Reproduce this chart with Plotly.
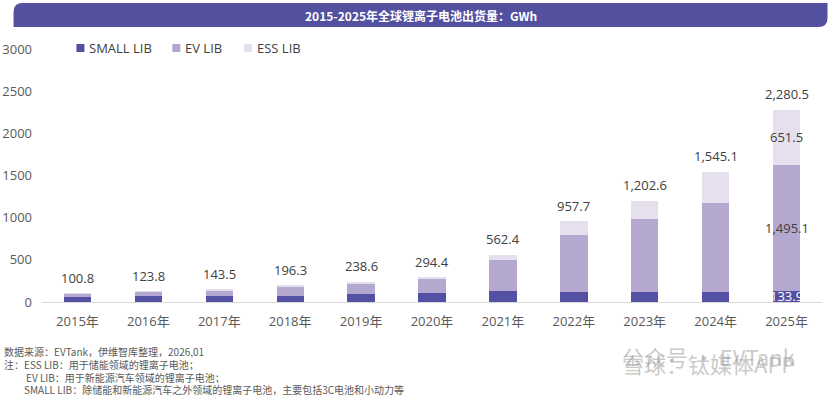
import plotly.graph_objects as go

years = ["2015年", "2016年", "2017年", "2018年", "2019年", "2020年",
         "2021年", "2022年", "2023年", "2024年", "2025年"]
small_lib = [61.0, 70.0, 75.5, 77.0, 93.0, 110.0, 125.1, 114.2, 113.2, 124.1, 133.9]
ev_lib = [37.6, 50.4, 60.0, 110.0, 128.0, 158.2, 371.0, 684.2, 865.2, 1051.2, 1495.1]
ess_lib = [2.2, 3.4, 8.0, 9.3, 17.6, 26.2, 66.3, 159.3, 224.2, 369.8, 651.5]
totals = [100.8, 123.8, 143.5, 196.3, 238.6, 294.4, 562.4, 957.7, 1202.6, 1545.1, 2280.5]
y_ticks = [0, 500, 1000, 1500, 2000, 2500, 3000]

title_text = "2015-2025年全球锂离子电池出货量：GWh"
notes = [
    "数据来源：EVTank，伊维智库整理，2026,01",
    "注：ESS LIB：用于储能领域的锂离子电池；",
    "EV LIB：用于新能源汽车领域的锂离子电池；",
    "SMALL LIB：除储能和新能源汽车之外领域的锂离子电池，主要包括3C电池和小动力等",
]
note_x = [1, 1, 23, 21]

W, H = 831, 395
L, R, T, B = 41.5, 8.5, 49, 92.5
PW, PH = W - L - R, H - T - B

def px(x):
    return (x - L) / PW

def py(y):
    return (H - B - y) / PH

C_SMALL = "#5450A3"
C_EV = "#B4A8D0"
C_ESS = "#E5DFEE"
TXT = "#404040"
FONT = "Open Sans, Noto Sans CJK SC, sans-serif"
CJK = "Noto Sans CJK SC, sans-serif"

fig = go.Figure()
for name, vals, col in [("SMALL LIB", small_lib, C_SMALL),
                        ("EV LIB", ev_lib, C_EV),
                        ("ESS LIB", ess_lib, C_ESS)]:
    fig.add_trace(go.Bar(x=years, y=vals, name=name, marker_color=col,
                         marker_line_width=0, showlegend=False,
                         hoverinfo="x+y+name"))

annotations = []
for yr, tot in zip(years, totals):
    annotations.append(dict(x=yr, y=tot, xref="x", yref="y", text=f"{tot:,.1f}",
                            showarrow=False, yanchor="middle", yshift=15.5,
                            font=dict(family=FONT, size=13, color=TXT)))

# segment labels on last bar
i = len(years) - 1
annotations.append(dict(x=years[i], y=small_lib[i] / 2, xref="x", yref="y",
                        text=f"{small_lib[i]:,.1f}", showarrow=False, yanchor="middle",
                        font=dict(family=FONT, size=13, color="white")))
annotations.append(dict(x=years[i], y=small_lib[i] + ev_lib[i] / 2, xref="x", yref="y",
                        text=f"{ev_lib[i]:,.1f}", showarrow=False, yanchor="middle",
                        font=dict(family=FONT, size=13, color=TXT)))
annotations.append(dict(x=years[i], y=small_lib[i] + ev_lib[i] + ess_lib[i] / 2,
                        xref="x", yref="y", text=f"{ess_lib[i]:,.1f}", showarrow=False,
                        yanchor="middle", font=dict(family=FONT, size=13, color=TXT)))

# title banner
x0, x1, y0, y1, r = 13, 828, 3, 27, 9
path = (f"M {px(x0 + r)},{py(y0)} L {px(x1)},{py(y0)} L {px(x1)},{py(y1 - r)} "
        f"Q {px(x1)},{py(y1)} {px(x1 - r)},{py(y1)} L {px(x0)},{py(y1)} "
        f"L {px(x0)},{py(y0 + r)} Q {px(x0)},{py(y0)} {px(x0 + r)},{py(y0)} Z")
shapes = [dict(type="path", xref="paper", yref="paper", path=path,
               fillcolor="#5450A0", line=dict(width=0), layer="above")]
annotations.append(dict(x=px(421), y=py(15.5), xref="paper", yref="paper",
                        text=f"<b>{title_text}</b>", showarrow=False,
                        xanchor="center", yanchor="middle",
                        font=dict(family=CJK, size=12, color="white")))

# manual legend
leg = [("SMALL LIB", C_SMALL, 76), ("EV LIB", C_EV, 172), ("ESS LIB", C_ESS, 244)]
for name, col, lx in leg:
    shapes.append(dict(type="rect", xref="paper", yref="paper",
                       x0=px(lx), x1=px(lx + 8), y0=py(52), y1=py(44),
                       fillcolor=col, line=dict(width=0)))
    annotations.append(dict(x=px(lx + 11), y=py(48), xref="paper", yref="paper",
                            text=name, showarrow=False, xanchor="left", yanchor="middle",
                            font=dict(family=FONT, size=13, color=TXT)))

# footnotes
for k, (line, nx) in enumerate(zip(notes, note_x)):
    annotations.append(dict(x=px(nx), y=py(352 + 12.6 * k), xref="paper", yref="paper",
                            text=line, showarrow=False, xanchor="left", yanchor="middle",
                            height=12, valign="middle",
                            font=dict(family=CJK, size=10, color="#595959")))

# watermark texts
annotations.append(dict(x=px(620), y=py(357), xref="paper", yref="paper",
                        text="公众号 · EVTank", showarrow=False,
                        xanchor="left", yanchor="middle",
                        font=dict(family=CJK, size=22, color="rgba(150,150,150,0.5)")))
annotations.append(dict(x=px(620), y=py(364), xref="paper", yref="paper",
                        text="雪球：钛媒体APP", showarrow=False,
                        xanchor="left", yanchor="middle",
                        font=dict(family=CJK, size=22, color="rgba(150,150,150,0.5)")))

fig.update_layout(
    width=W, height=H, barmode="stack", bargap=0.614,
    margin=dict(l=L, r=R, t=T, b=B, pad=0, autoexpand=False),
    paper_bgcolor="white", plot_bgcolor="white",
    font=dict(family=FONT, size=13, color="#595959"),
    shapes=shapes, annotations=annotations, showlegend=False,
    xaxis=dict(showgrid=False, showline=True, linecolor="#D9D9D9", linewidth=1,
               ticks="", ticklabelstandoff=7, automargin=False,
               tickfont=dict(family=FONT, size=13, color="#595959")),
    yaxis=dict(range=[0, 3000], tickvals=y_ticks, showgrid=False, zeroline=False,
               showline=False, ticks="", ticklabelstandoff=9, automargin=False,
               tickfont=dict(family=FONT, size=13, color="#595959")),
)

fig.write_html("out.html", config={"displayModeBar": False},
               post_script="document.body.style.margin='0';")
